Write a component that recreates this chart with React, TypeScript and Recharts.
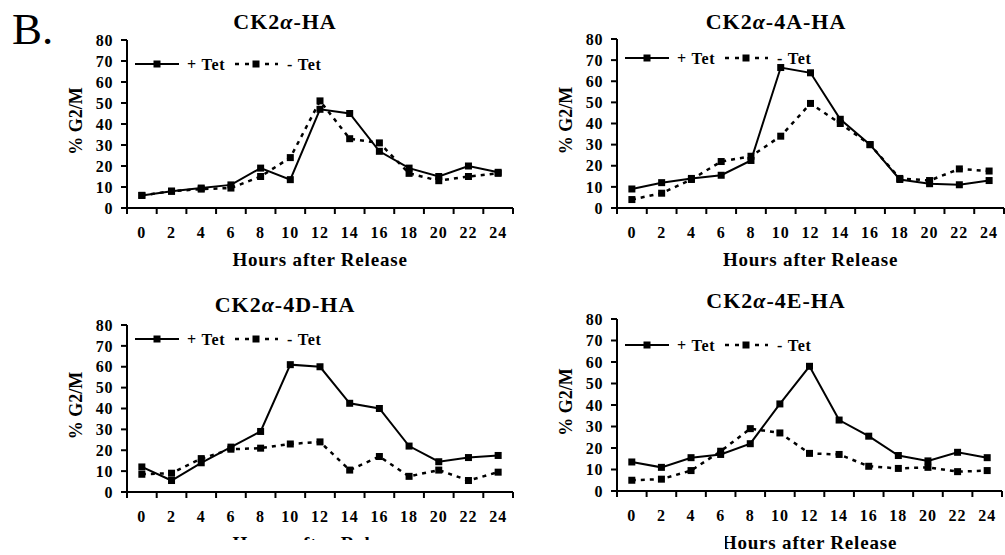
import React from 'react';
import { LineChart, Line, XAxis, YAxis, Label } from 'recharts';

// ---------- data ----------
const hours = [0, 2, 4, 6, 8, 10, 12, 14, 16, 18, 20, 22, 24];
const hourAxisTicks = [-1, 0, 1, 2, 3, 4, 5, 6, 7, 8, 9, 10, 11, 12, 13, 14, 15, 16, 17, 18, 19, 20, 21, 22, 23, 24, 25];
const yTicks = [0, 10, 20, 30, 40, 50, 60, 70, 80];
const seriesNames = ['+ Tet', '- Tet'];
const xLabelText = 'Hours after Release';
const yLabelText = '% G2/M';
const figureLetter = 'B.';

const haPlus = [6, 8, 9.5, 11, 19, 13.5, 47, 45, 27, 19, 15, 20, 17];
const haMinus = [6, 8, 9, 9.5, 15, 24, 51, 33, 31, 16.5, 13, 15, 16.5];
const a4Plus = [9, 12, 14, 15.5, 22.5, 66.5, 64, 42, 30, 13.5, 11.5, 11, 13];
const a4Minus = [4, 7, 13.5, 22, 24.5, 34, 49.5, 40, 30, 14, 13, 18.5, 17.5];
const d4Plus = [12, 5.5, 14, 21.5, 29, 61, 60, 42.5, 40, 22, 14.5, 16.5, 17.5];
const d4Minus = [8.5, 9, 16, 20.5, 21, 23, 24, 10.5, 17, 7.5, 10.5, 5.5, 9.5];
const e4Plus = [13.5, 11, 15.5, 17, 22, 40.5, 58, 33, 25.5, 16.5, 14, 18, 15.5];
const e4Minus = [5, 5.5, 9.5, 18.5, 29, 27, 17.5, 17, 11.5, 10.5, 11, 9, 9.5];

const titlePrefix = 'CK2';
const titleGreek = 'α';
const titleSuffixes = ['-HA', '-4A-HA', '-4D-HA', '-4E-HA'];

// ---------- layout / style ----------
const SERIF = '"Liberation Serif", "Times New Roman", serif';

type Cfg = {
  left: number; top: number; width: number; height: number;
  mt: number; mr: number; yw: number; xh: number;
  titleX: number; titleY: number; legendY: number;
  clipBottom?: number; clipX?: number;
};

const panels: Cfg[] = [
  { left: 0, top: 0, width: 520, height: 275, mt: 40, mr: 7, yw: 127, xh: 67, titleX: 285, titleY: 29, legendY: 64 },
  { left: 490, top: 0, width: 515, height: 275, mt: 39, mr: 1, yw: 127, xh: 67, titleX: 776, titleY: 29, legendY: 58 },
  { left: 0, top: 280, width: 520, height: 275, mt: 45, mr: 7, yw: 127, xh: 63, titleX: 285, titleY: 312, legendY: 339, clipBottom: 48 },
  { left: 490, top: 280, width: 515, height: 275, mt: 39, mr: 3, yw: 127, xh: 64, titleX: 776, titleY: 308, legendY: 345, clipX: 235 },
];

const panelData = [
  [haPlus, haMinus],
  [a4Plus, a4Minus],
  [d4Plus, d4Minus],
  [e4Plus, e4Minus],
];

const DASH = '4 5';

const SquareDot = (props: any) => {
  const { cx, cy } = props;
  if (cx == null || cy == null) return null;
  return <rect x={cx - 3.5} y={cy - 3.5} width={7} height={7} fill="#000" />;
};

const HourTick = (props: any) => {
  const { x, y, payload } = props;
  const v = payload.value;
  if (Math.abs(v % 2) === 1) {
    return <line x1={x} x2={x} y1={y} y2={y + 6} stroke="#000" strokeWidth={2} />;
  }
  return (
    <text x={x} y={y + 30} textAnchor="middle" fill="#000" fontFamily={SERIF} fontWeight={700} fontSize={16} letterSpacing={1}>
      {v}
    </text>
  );
};

const renderXLabel = (p: any, cfg: Cfg, idx: number) => {
  const vb = p.viewBox || {};
  const cx = vb.x + vb.width / 2;
  const id = `xlclip${idx}`;
  const useClip = cfg.clipBottom != null || cfg.clipX != null;
  const clipH = cfg.clipBottom != null ? cfg.clipBottom : 100;
  const clipLeft = cfg.clipX != null ? cfg.clipX : 0;
  return (
    <g>
      {useClip && (
        <defs>
          <clipPath id={id}>
            <rect x={clipLeft} y={vb.y} width={1000} height={clipH} />
          </clipPath>
        </defs>
      )}
      <text
        x={cx}
        y={vb.y + 58}
        textAnchor="middle"
        fill="#000"
        fontFamily={SERIF}
        fontWeight={700}
        fontSize={19}
        letterSpacing={0.8}
        clipPath={useClip ? `url(#${id})` : undefined}
      >
        {xLabelText}
      </text>
    </g>
  );
};

const renderYLabel = (p: any) => {
  const vb = p.viewBox || {};
  const cx = vb.x + vb.width - 51;
  const cy = vb.y + vb.height / 2 - 3;
  return (
    <text
      x={cx}
      y={cy}
      transform={`rotate(-90, ${cx}, ${cy})`}
      textAnchor="middle"
      dominantBaseline="central"
      fill="#000"
      fontFamily={SERIF}
      fontWeight={700}
      fontSize={18}
    >
      {yLabelText}
    </text>
  );
};

function Panel({ cfg, idx }: { cfg: Cfg; idx: number }) {
  const [plus, minus] = panelData[idx];
  const data = hours.map((h, i) => ({ hour: h, plus: plus[i], minus: minus[i] }));
  return (
    <div style={{ position: 'absolute', left: cfg.left, top: cfg.top, width: cfg.width, height: cfg.height }}>
      <LineChart width={cfg.width} height={cfg.height} data={data} margin={{ top: cfg.mt, right: cfg.mr, bottom: 0, left: 0 }}>
        <XAxis
          dataKey="hour"
          type="number"
          domain={[-1, 25]}
          ticks={hourAxisTicks}
          interval={0}
          tickSize={0}
          tickMargin={0}
          tickLine={false}
          tick={(tp: any) => <HourTick {...tp} />}
          height={cfg.xh}
          axisLine={{ stroke: '#000', strokeWidth: 2 }}
          allowDataOverflow
        >
          <Label value={xLabelText} content={(p: any) => renderXLabel(p, cfg, idx)} />
        </XAxis>
        <YAxis
          type="number"
          domain={[0, 80]}
          ticks={yTicks}
          interval={0}
          width={cfg.yw}
          tickSize={6}
          tickMargin={8}
          axisLine={{ stroke: '#000', strokeWidth: 2 }}
          tickLine={{ stroke: '#000', strokeWidth: 2 }}
          tick={{ fill: '#000', fontSize: 16, fontWeight: 700, fontFamily: SERIF, letterSpacing: 0.6 }}
          allowDataOverflow
        >
          <Label value={yLabelText} content={(p: any) => renderYLabel(p)} />
        </YAxis>
        <Line
          type="linear"
          dataKey="plus"
          name={seriesNames[0]}
          stroke="#000"
          strokeWidth={2}
          dot={(dp: any) => <SquareDot key={`p${dp.index}`} {...dp} />}
          activeDot={false}
          isAnimationActive={false}
        />
        <Line
          type="linear"
          dataKey="minus"
          name={seriesNames[1]}
          stroke="#000"
          strokeWidth={2.5}
          strokeDasharray={DASH}
          dot={(dp: any) => <SquareDot key={`m${dp.index}`} {...dp} />}
          activeDot={false}
          isAnimationActive={false}
        />
      </LineChart>
    </div>
  );
}

function LegendGroup({ ax, y }: { ax: number; y: number }) {
  const txt = { fill: '#000', fontFamily: SERIF, fontWeight: 700, fontSize: 16, letterSpacing: 0.8 } as any;
  return (
    <g>
      <line x1={ax + 8} x2={ax + 52} y1={y} y2={y} stroke="#000" strokeWidth={2} />
      <rect x={ax + 30 - 3.5} y={y - 3.5} width={7} height={7} fill="#000" />
      <text x={ax + 60} y={y + 5.5} {...txt}>{seriesNames[0]}</text>
      <line x1={ax + 108} x2={ax + 151} y1={y} y2={y} stroke="#000" strokeWidth={2.5} strokeDasharray="4 6" />
      <rect x={ax + 129 - 3.5} y={y - 3.5} width={7} height={7} fill="#000" />
      <text x={ax + 160} y={y + 5.5} {...txt}>{seriesNames[1]}</text>
    </g>
  );
}

export default function App() {
  return (
    <div style={{ position: 'absolute', left: 0, top: 0, width: 1005, height: 555, background: '#fff', overflow: 'hidden' }}>
      {panels.map((cfg, i) => (
        <Panel key={i} cfg={cfg} idx={i} />
      ))}
      <svg width={1005} height={555} style={{ position: 'absolute', left: 0, top: 0, pointerEvents: 'none' }}>
        <text x={12} y={44} fontFamily={SERIF} fontSize={45} fill="#000">{figureLetter}</text>
        {panels.map((cfg, i) => (
          <g key={i}>
            <text
              x={cfg.titleX}
              y={cfg.titleY}
              textAnchor="middle"
              fontFamily={SERIF}
              fontWeight={700}
              fontSize={22}
              letterSpacing={1}
              fill="#000"
            >
              {titlePrefix}
              <tspan fontStyle="italic">{titleGreek}</tspan>
              {titleSuffixes[i]}
            </text>
            <LegendGroup ax={cfg.left + cfg.yw} y={cfg.legendY} />
          </g>
        ))}
      </svg>
    </div>
  );
}
